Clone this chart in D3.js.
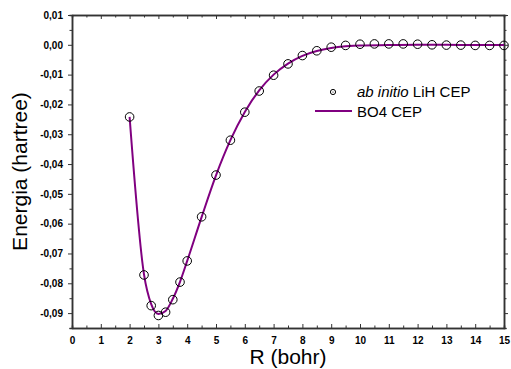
<html>
<head>
<style>
  body { margin: 0; background: #fff; }
  svg { font-family: "Liberation Sans", Arial, sans-serif; }
  .tick text { font-weight: bold; font-size: 10px; fill: #000; }
  .axis .domain { stroke: #333; stroke-width: 1.5px; }
  .axis .tick line { stroke: #333; stroke-width: 1px; }
</style>
</head>
<body>
<svg width="511" height="369"></svg>
<script src="https://d3js.org/d3.v7.min.js"></script>
<script>
// ab initio LiH CEP points (R in bohr, energy in hartree)
let rAbInitio = [2, 2.5, 2.75, 3, 3.25, 3.5, 3.75, 4, 4.5, 5, 5.5, 6, 6.5, 7, 7.5, 8, 8.5, 9, 9.5, 10,
                 10.5, 11, 11.5, 12, 12.5, 13, 13.5, 14, 14.5, 15]
let eAbInitio = [-0.0242, -0.0772, -0.0875, -0.0908, -0.0897, -0.0855, -0.0796, -0.0725, -0.0577, -0.0437,
                 -0.0320, -0.0226, -0.0155, -0.0102, -0.0064, -0.0036, -0.0020, -0.0008, -0.0002, 0.0002,
                 0.0003, 0.0003, 0.0003, 0.0002, 0.0000, -0.0001, -0.0001, -0.0002, -0.0002, -0.0002]

// BO4 CEP fitted curve
let rBO4 = [2, 2.5, 2.75, 3, 3.25, 3.5, 3.75, 4, 4.5, 5, 5.5, 6, 6.5, 7, 7.5, 8, 8.5, 9, 9.5, 10,
            11, 12, 13, 14, 15]
let eBO4 = [-0.0242, -0.0770, -0.0870, -0.0903, -0.0893, -0.0852, -0.0795, -0.0725, -0.0578, -0.0438,
            -0.0320, -0.0225, -0.0153, -0.0100, -0.0063, -0.0037, -0.0021, -0.0011, -0.0005, -0.0002,
            -0.0001, 0.0000, 0.0000, -0.0001, -0.0001]

let xTicks = [0, 1, 2, 3, 4, 5, 6, 7, 8, 9, 10, 11, 12, 13, 14, 15]
let yTicks = [0.01, 0.00, -0.01, -0.02, -0.03, -0.04, -0.05, -0.06, -0.07, -0.08, -0.09]
let yTickLabels = ["0,01", "0,00", "-0,01", "-0,02", "-0,03", "-0,04", "-0,05", "-0,06", "-0,07", "-0,08", "-0,09"]

let legendLabels = ["ab initio", "BO4 CEP"]

let svg = d3.select("svg")
let margin = {top: 15, right: 7, bottom: 41, left: 72}
let width = 511, height = 369

let x = d3.scaleLinear().domain([0, 15]).range([margin.left, width - margin.right])
let y = d3.scaleLinear().domain([-0.095, 0.01]).range([height - margin.bottom, margin.top])

let xMinor = d3.range(0.5, 15, 1)
let yMinor = d3.range(-0.095, 0.01, 0.01).map(v => +v.toFixed(3))

// minor ticks first
svg.append("g").attr("class", "axis")
    .attr("transform", `translate(0, ${y(-0.095)})`)
    .call(d3.axisBottom(x).tickValues(xMinor).tickSize(-2.5).tickFormat(""))
svg.append("g").attr("class", "axis")
    .attr("transform", `translate(0, ${y(0.01)})`)
    .call(d3.axisTop(x).tickValues(xMinor).tickSize(-2.5).tickFormat(""))
svg.append("g").attr("class", "axis")
    .attr("transform", `translate(${x(0)}, 0)`)
    .call(d3.axisLeft(y).tickValues(yMinor).tickSize(2.5).tickFormat(""))
svg.append("g").attr("class", "axis")
    .attr("transform", `translate(${x(15)}, 0)`)
    .call(d3.axisRight(y).tickValues(yMinor).tickSize(2.5).tickFormat(""))

// major ticks
svg.append("g").attr("class", "axis")
    .attr("transform", `translate(0, ${y(-0.095)})`)
    .call(d3.axisBottom(x).tickValues(xTicks).tickSize(-4).tickPadding(9).tickSizeOuter(0))
svg.append("g").attr("class", "axis")
    .attr("transform", `translate(0, ${y(0.01)})`)
    .call(d3.axisTop(x).tickValues(xTicks).tickSize(-4).tickFormat("").tickSizeOuter(0))
svg.append("g").attr("class", "axis")
    .attr("transform", `translate(${x(0)}, 0)`)
    .call(d3.axisLeft(y).tickValues(yTicks).tickSize(4).tickPadding(5).tickSizeOuter(0)
        .tickFormat((d, i) => yTickLabels[i]))
svg.append("g").attr("class", "axis")
    .attr("transform", `translate(${x(15)}, 0)`)
    .call(d3.axisRight(y).tickValues(yTicks).tickSize(4).tickFormat("").tickSizeOuter(0))

// axis titles
svg.append("text")
    .attr("x", (x(0) + x(15)) / 2)
    .attr("y", 364)
    .attr("text-anchor", "middle")
    .style("font-size", "21px")
    .text("R (bohr)")

svg.append("text")
    .attr("transform", `translate(27, ${(y(0.01) + y(-0.095)) / 2}) rotate(-90)`)
    .attr("text-anchor", "middle")
    .style("font-size", "21px")
    .text("Energia (hartree)")

let purple = "#800080"

// BO4 curve
let lineData = rBO4.map((r, i) => ({r: r, e: eBO4[i]}))
svg.append("path")
    .datum(lineData)
    .attr("fill", "none")
    .attr("stroke", purple)
    .attr("stroke-width", 2)
    .attr("d", d3.line().x(d => x(d.r)).y(d => y(d.e)).curve(d3.curveMonotoneX))

// ab initio points
let pts = rAbInitio.map((r, i) => ({r: r, e: eAbInitio[i]}))
svg.append("g").selectAll("circle")
    .data(pts)
    .join("circle")
    .attr("cx", d => x(d.r))
    .attr("cy", d => y(d.e))
    .attr("r", 4.3)
    .attr("fill", "none")
    .attr("stroke", "#000")
    .attr("stroke-width", 1)

// legend
let legend = svg.append("g")
legend.append("circle")
    .attr("cx", 333).attr("cy", 92).attr("r", 2.6)
    .attr("fill", "none").attr("stroke", "#000").attr("stroke-width", 1)
legend.append("circle")
    .attr("cx", 333).attr("cy", 92).attr("r", 0.6).attr("fill", "#000")
let t1 = legend.append("text")
    .attr("x", 357).attr("y", 97)
    .style("font-size", "15px")
t1.append("tspan").style("font-style", "italic").text(legendLabels[0])
t1.append("tspan").text(" LiH CEP")

legend.append("line")
    .attr("x1", 315).attr("x2", 352).attr("y1", 111).attr("y2", 111)
    .attr("stroke", purple).attr("stroke-width", 2)
legend.append("text")
    .attr("x", 357).attr("y", 117)
    .style("font-size", "15px")
    .text(legendLabels[1])
</script>
</body>
</html>
